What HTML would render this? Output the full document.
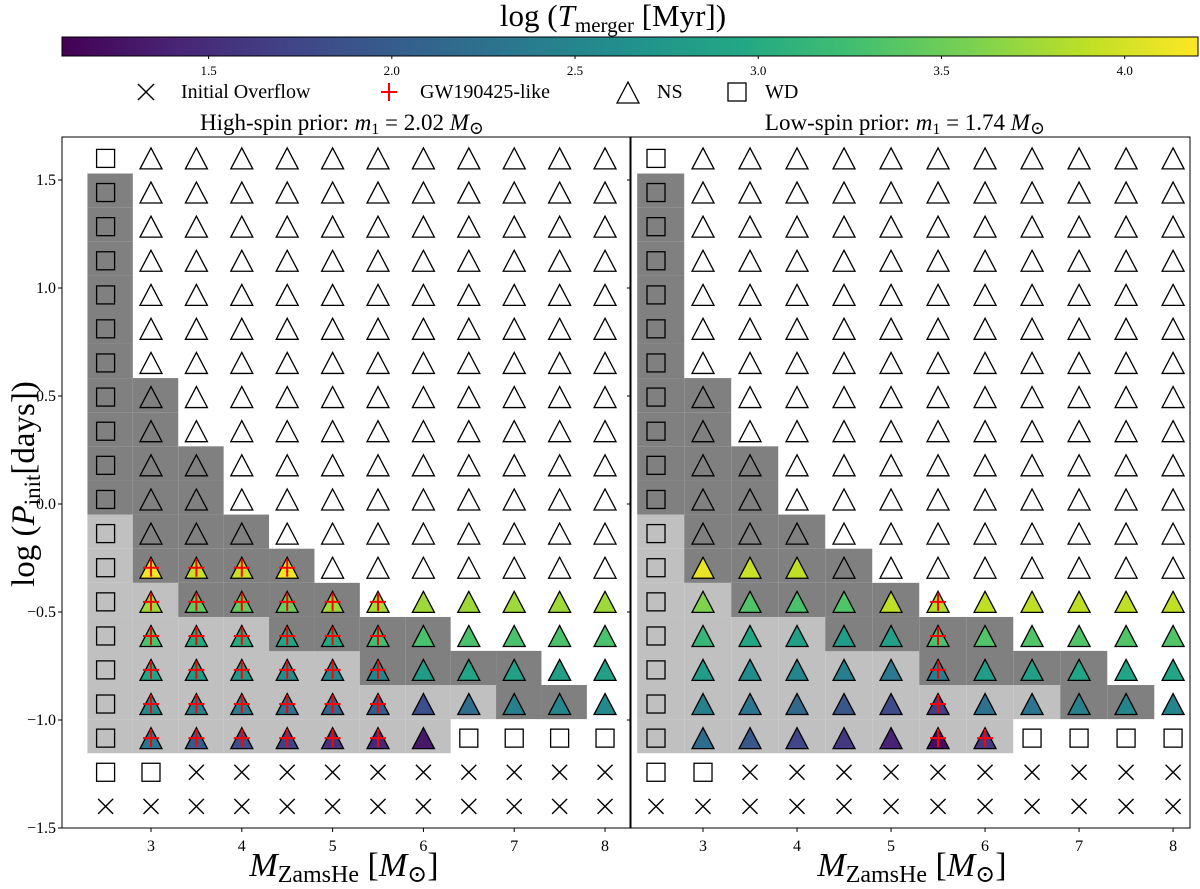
<!DOCTYPE html>
<html>
<head>
<meta charset="utf-8">
<style>
  html, body { margin: 0; padding: 0; background: #ffffff; }
  svg { display: block; font-family: "Liberation Serif", "DejaVu Serif", serif; }
</style>
</head>
<body>
<svg id="chart" width="1200" height="889" viewBox="0 0 1200 889" xmlns="http://www.w3.org/2000/svg">
  <defs>
    <linearGradient id="viridis" x1="0" x2="1" y1="0" y2="0"></linearGradient>
  </defs>
  <g id="colorbar"></g>
  <g id="legend"></g>
  <g id="panels"></g>
</svg>
<script>
// ---------- data ----------
const masses = [2.5, 3, 3.5, 4, 4.5, 5, 5.5, 6, 6.5, 7, 7.5, 8];
const logP = [-1.4, -1.242, -1.084, -0.926, -0.768, -0.611, -0.453, -0.295, -0.137, 0.021,
              0.179, 0.337, 0.495, 0.653, 0.811, 0.968, 1.126, 1.284, 1.442, 1.6];
const yTicks = [1.5, 1.0, 0.5, 0.0, -0.5, -1.0, -1.5];
const yTickLabels = ["1.5", "1.0", "0.5", "0.0", "\u22120.5", "\u22121.0", "\u22121.5"];
const xTicks = [3, 4, 5, 6, 7, 8];
const cbTicks = [1.5, 2.0, 2.5, 3.0, 3.5, 4.0];
const cbTickLabels = ["1.5", "2.0", "2.5", "3.0", "3.5", "4.0"];
const cbMin = 1.1, cbMax = 4.2;

// marker types per row, bottom (row 0) to top (row 19): x overflow, s WD, t NS
const markerRows = [
  "xxxxxxxxxxxx", "ssxxxxxxxxxx", "stttttttssss",
  "sttttttttttt", "sttttttttttt", "sttttttttttt", "sttttttttttt", "sttttttttttt",
  "sttttttttttt", "sttttttttttt", "sttttttttttt", "sttttttttttt", "sttttttttttt",
  "sttttttttttt", "sttttttttttt", "sttttttttttt", "sttttttttttt", "sttttttttttt",
  "sttttttttttt", "sttttttttttt"
];
// background shading per row (d dark, l light, . none)
const shadeRows = [
  "............", "............", "llllllll....", "llllllllldd.", "lllllldddd..",
  "lllldddd....", "lldddd......", "ldddd.......", "lddd........", "ddd.........",
  "ddd.........", "dd..........", "dd..........", "d...........", "d...........",
  "d...........", "d...........", "d...........", "d...........", "............"
];
// log T_merger values for coloured triangles, rows 2..7 (null = unfilled)
const leftRow2 = [null, 2.3, 2.0, 1.85, 1.7, 1.55, 1.45, 1.3, null, null, null, null];
const leftRow3 = [null, 2.55, 2.45, 2.35, 2.25, 2.1, 2.0, 1.85, 2.2, 2.45, 2.5, 2.55];
const leftRow4 = [null, 2.9, 2.8, 2.75, 2.6, 2.5, 2.5, 2.8, 2.9, 2.85, 2.85, 2.85];
const leftRow5 = [null, 3.3, 3.0, 3.0, 2.9, 2.95, 3.25, 3.3, 3.3, 3.3, 3.3, 3.3];
const leftRow6 = [null, 3.75, 3.45, 3.45, 3.5, 3.75, 3.8, 3.75, 3.75, 3.75, 3.75, 3.75];
const leftRow7 = [null, 4.15, 3.95, 3.95, 4.15, null, null, null, null, null, null, null];
const rightRow2 = [null, 2.2, 1.95, 1.75, 1.6, 1.4, 1.2, 1.6, null, null, null, null];
const rightRow3 = [null, 2.45, 2.3, 2.15, 1.95, 1.8, 1.65, 2.25, 2.3, 2.45, 2.5, 2.5];
const rightRow4 = [null, 2.8, 2.6, 2.5, 2.4, 2.35, 2.4, 2.8, 2.85, 2.9, 2.9, 2.9];
const rightRow5 = [null, 3.15, 2.95, 2.85, 2.8, 2.85, 3.3, 3.35, 3.35, 3.35, 3.35, 3.35];
const rightRow6 = [null, 3.6, 3.35, 3.3, 3.35, 3.9, 3.85, 3.9, 3.9, 3.9, 3.9, 3.9];
const rightRow7 = [null, 4.1, 3.95, 3.9, null, null, null, null, null, null, null, null];
// GW190425-like flags per row (rows 2..7)
const leftCrossRows = { 2: ".++++++.....", 3: ".++++++.....", 4: ".++++++.....", 5: ".++++++.....", 6: ".++++++.....", 7: ".++++......." };
const rightCrossRows = { 2: "......++....", 3: "......+.....", 4: "......+.....", 5: "......+.....", 6: "......+.....", 7: "............" };

// ---------- helpers ----------
const NS = "http://www.w3.org/2000/svg";
function mk(tag, attrs, parent) {
  const e = document.createElementNS(NS, tag);
  for (const k in attrs) e.setAttribute(k, attrs[k]);
  if (parent) parent.appendChild(e);
  return e;
}
const vir = [[0,"#440154"],[0.1,"#482475"],[0.2,"#414487"],[0.3,"#355f8d"],[0.4,"#2a788e"],
             [0.5,"#21918c"],[0.6,"#22a884"],[0.7,"#44bf70"],[0.8,"#7ad151"],[0.9,"#bddf26"],[1,"#fde725"]];
function hex2rgb(h){ return [1,3,5].map(i=>parseInt(h.substr(i,2),16)); }
function viridis(v) {
  let t = (v - cbMin) / (cbMax - cbMin); t = Math.max(0, Math.min(1, t));
  for (let i = 0; i < vir.length - 1; i++) {
    if (t <= vir[i+1][0]) {
      const f = (t - vir[i][0]) / (vir[i+1][0] - vir[i][0]);
      const a = hex2rgb(vir[i][1]), b = hex2rgb(vir[i+1][1]);
      return "rgb(" + a.map((c,j)=>Math.round(c + (b[j]-c)*f)).join(",") + ")";
    }
  }
  return vir[vir.length-1][1];
}
const svg = document.getElementById("chart");

// ---------- colorbar ----------
const grad = document.getElementById("viridis");
vir.forEach(s => mk("stop", {offset: s[0], "stop-color": s[1]}, grad));
const cb = document.getElementById("colorbar");
const cbX0 = 62, cbX1 = 1198, cbY0 = 37, cbY1 = 56;
const cbx = v => cbX0 + (v - cbMin) / (cbMax - cbMin) * (cbX1 - cbX0);
const cbRect = mk("rect", {x: cbX0, y: cbY0, width: cbX1 - cbX0, height: cbY1 - cbY0, fill: "url(#viridis)", stroke: "#000", "stroke-width": 1}, cb);


cbTicks.forEach((v, i) => {
  mk("line", {x1: cbx(v), x2: cbx(v), y1: cbY1, y2: cbY1 + 3, stroke: "#000", "stroke-width": 1}, cb);
  const t = mk("text", {x: cbx(v), y: 75, "font-size": 13, "text-anchor": "middle"}, cb);
  t.textContent = cbTickLabels[i];
  
  
});
const cbTitle = mk("text", {x: 613, y: 26, "font-size": 31, "text-anchor": "middle"}, cb);
cbTitle.innerHTML = 'log (<tspan font-style="italic">T</tspan><tspan font-size="21" dy="6">merger</tspan><tspan dy="-6"> [Myr])</tspan>';



// ---------- legend ----------
const lg = document.getElementById("legend");
function drawX(g, x, y, s) {
  mk("line", {x1: x-s, y1: y-s, x2: x+s, y2: y+s, stroke: "#000", "stroke-width": 1.4}, g);
  mk("line", {x1: x-s, y1: y+s, x2: x+s, y2: y-s, stroke: "#000", "stroke-width": 1.4}, g);
}
function drawCross(g, x, y) {
  mk("line", {x1: x-8, y1: y, x2: x+8, y2: y, stroke: "#ff0000", "stroke-width": 2}, g);
  mk("line", {x1: x, y1: y-9, x2: x, y2: y+9, stroke: "#ff0000", "stroke-width": 2}, g);
}
function drawTri(g, x, y, fill) {
  return mk("polygon", {points: `${x},${y-11} ${x-11},${y+10} ${x+11},${y+10}`, fill: fill, stroke: "#000", "stroke-width": 1.3, "stroke-linejoin": "miter"}, g);
}
function drawSq(g, x, y) {
  return mk("rect", {x: x-9, y: y-9, width: 18, height: 18, fill: "none", stroke: "#000", "stroke-width": 1.3}, g);
}
const lgY = 92;
const e1 = mk("g", {}, lg);  
drawX(e1, 146, lgY, 8);
mk("text", {x: 181, y: 98, "font-size": 20}, e1).textContent = "Initial Overflow";
const e2 = mk("g", {}, lg);  
drawCross(e2, 389, lgY);
mk("text", {x: 420, y: 98, "font-size": 20}, e2).textContent = "GW190425-like";
const e3 = mk("g", {}, lg);  
drawTri(e3, 628, lgY + 1, "none");
mk("text", {x: 657, y: 98, "font-size": 20}, e3).textContent = "NS";
const e4 = mk("g", {}, lg);  
drawSq(e4, 737, lgY);
mk("text", {x: 765, y: 98, "font-size": 20}, e4).textContent = "WD";

// ---------- panels ----------
const yTop = 137, yBot = 828;
const ys = v => 180 + (1.5 - v) * 216;
const panels = [
  {name: "high-spin", x0: 62, x1: 630, xmin: 2.02, xmax: 8.275, title: ["High-spin prior: ", "2.02"], tx: 342, lx: 344,
   rows: {2: leftRow2, 3: leftRow3, 4: leftRow4, 5: leftRow5, 6: leftRow6, 7: leftRow7}, cross: leftCrossRows, yLabels: true},
  {name: "low-spin", x0: 631, x1: 1190, xmin: 2.234, xmax: 8.18, title: ["Low-spin prior: ", "1.74"], tx: 905, lx: 912,
   rows: {2: rightRow2, 3: rightRow3, 4: rightRow4, 5: rightRow5, 6: rightRow6, 7: rightRow7}, cross: rightCrossRows, yLabels: false}
];
const pg = document.getElementById("panels");
panels.forEach(P => {
  const g = mk("g", {}, pg);
  
  
  const xs = m => P.x0 + (m - P.xmin) / (P.xmax - P.xmin) * (P.x1 - P.x0);

  // shading
  const sh = mk("g", {}, g);
  
  
  shadeRows.forEach((row, r) => {
    for (let c = 0; c < 12; c++) {
      const ch = row[c];
      if (ch !== "d" && ch !== "l") continue;
      const x0 = xs(masses[c] - 0.2), x1 = xs(masses[c] + 0.3);
      const y0 = ys(logP[r] + 0.088), y1 = ys(logP[r] - 0.07);
      const rc = mk("rect", {x: x0, y: y0, width: x1 - x0, height: y1 - y0, fill: ch === "d" ? "#808080" : "#c0c0c0"}, sh);
      
      
    }
  });

  // markers
  const mg = mk("g", {}, g);
  
  
  markerRows.forEach((row, r) => {
    for (let c = 0; c < 12; c++) {
      const x = xs(masses[c]), y = ys(logP[r]);
      const t = row[c];
      let el;
      if (t === "x") {
        el = mk("g", {}, mg); drawX(el, x, y, 7.5);
        
      } else if (t === "s") {
        el = drawSq(mg, x, y);
        
      } else {
        const vals = P.rows[r];
        const v = vals ? vals[c] : null;
        el = drawTri(mg, x, y + 0.5, v == null ? "none" : viridis(v));
        
      }
      
      const cr = P.cross[r];
      if (cr && cr[c] === "+") {
        const cg = mk("g", {}, mg); drawCross(cg, x, y);
        
        
      }
    }
  });

  // frame
  const fr = mk("rect", {x: P.x0, y: yTop, width: P.x1 - P.x0, height: yBot - yTop, fill: "none", stroke: "#000", "stroke-width": 1}, g);
  
  

  // x ticks
  xTicks.forEach(m => {
    mk("line", {x1: xs(m), x2: xs(m), y1: yBot, y2: yBot + 4, stroke: "#000", "stroke-width": 1}, g);
    const t = mk("text", {x: xs(m), y: 851, "font-size": 16, "text-anchor": "middle"}, g);
    t.textContent = String(m);
    
    
  });
  // y ticks
  yTicks.forEach((v, i) => {
    mk("line", {x1: P.x0 - 4, x2: P.x0, y1: ys(v), y2: ys(v), stroke: "#000", "stroke-width": 1}, g);
    if (P.yLabels) {
      const t = mk("text", {x: 56, y: ys(v) + 5, "font-size": 16, "text-anchor": "end"}, g);
      t.textContent = yTickLabels[i];
      
      
    }
  });
  // title
  const tt = mk("text", {x: P.tx, y: 130, "font-size": 23, "text-anchor": "middle"}, g);
  tt.innerHTML = P.title[0] + '<tspan font-style="italic">m</tspan><tspan font-size="16" dy="4">1</tspan><tspan dy="-4"> = ' + P.title[1] + ' </tspan><tspan font-style="italic">M</tspan><tspan font-size="18" dy="4">\u2299</tspan>';
  
  
  // x label
  const xl = mk("text", {x: P.lx, y: 876, "font-size": 34, "text-anchor": "middle"}, g);
  xl.innerHTML = '<tspan font-style="italic">M</tspan><tspan font-size="24" dy="6">ZamsHe</tspan><tspan dy="-6"> [</tspan><tspan font-style="italic">M</tspan><tspan font-size="24" dy="6">\u2299</tspan><tspan dy="-6">]</tspan>';
  
  
});

// y label
const yl = mk("text", {x: 0, y: 0, "font-size": 33, "text-anchor": "middle", transform: "translate(34,484) rotate(-90)"}, svg);
yl.innerHTML = 'log (<tspan font-style="italic">P</tspan><tspan font-size="23" dy="6">init</tspan><tspan dy="-6">[days])</tspan>';


</script>
</body>
</html>
